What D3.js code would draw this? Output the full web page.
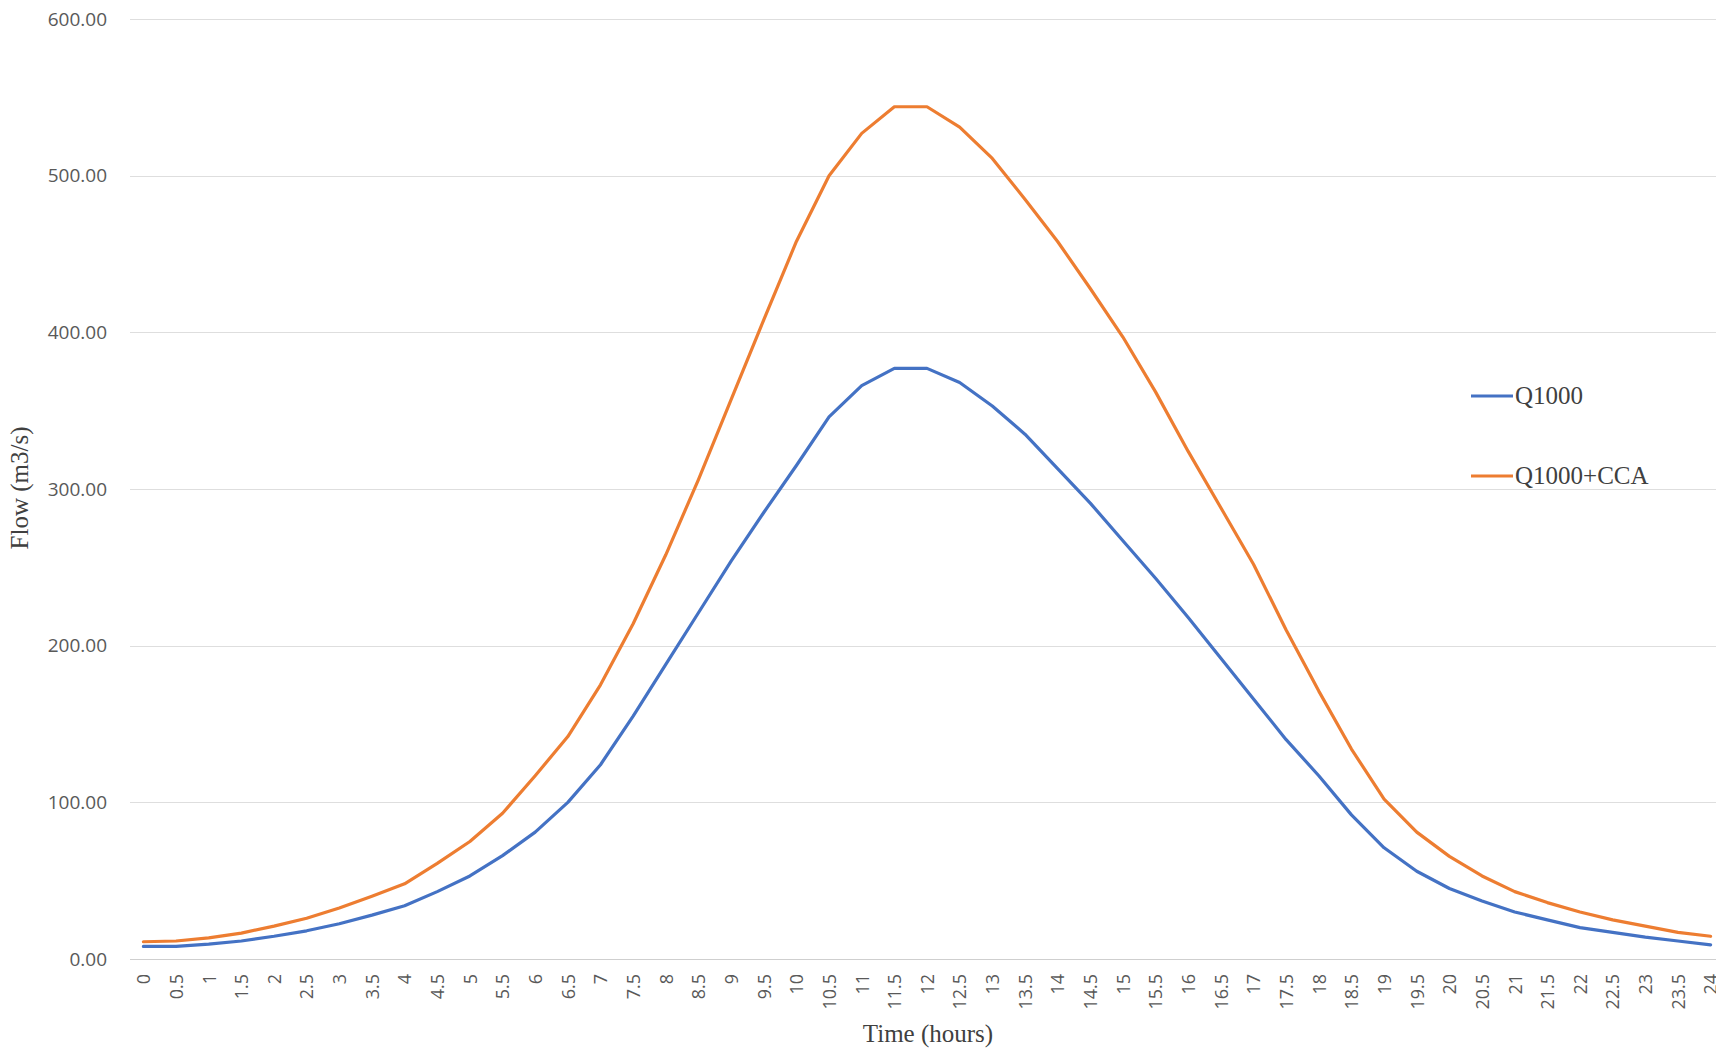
<!DOCTYPE html>
<html>
<head>
<meta charset="utf-8">
<script src="https://cdn.jsdelivr.net/npm/d3@7"></script>
<style>
  body { margin: 0; background: #fff; overflow: hidden; }
  svg { display: block; }
</style>
</head>
<body>
<svg id="chart" width="1716" height="1052"></svg>
<script>
// time steps (hours)
var hours = ["0","0.5","1","1.5","2","2.5","3","3.5","4","4.5","5","5.5","6","6.5","7","7.5","8","8.5","9","9.5",
  "10","10.5","11","11.5","12","12.5","13","13.5","14","14.5","15","15.5","16","16.5","17","17.5","18","18.5","19","19.5",
  "20","20.5","21","21.5","22","22.5","23","23.5","24"];

var q1000 = [8, 8, 9.5, 11.5, 14.5, 18, 22.5, 28, 34, 43, 53, 66, 81, 100, 124, 155, 188, 221, 254, 285,
  315, 346, 366, 377, 377, 368, 353, 335, 313, 291, 267, 243, 218, 192, 166, 140, 117, 92, 71, 56,
  45, 37, 30, 25, 20, 17, 14, 11.5, 9];

var q1000cca = [11, 11.5, 13.5, 16.5, 21, 26, 32.5, 40, 48, 61, 75, 93, 117, 142, 175, 214, 258, 306, 357, 408,
  458, 500, 527, 544, 544, 531, 511, 485, 458, 428, 397, 362, 324, 288, 252, 210, 171, 134, 102, 81,
  65.5, 53, 43, 36, 30, 25, 21, 17, 14.5];

var yTicks = [0, 100, 200, 300, 400, 500, 600];

var seriesNames = ["Q1000", "Q1000+CCA"];
var colors = ["#4472C4", "#ED7D31"];

var svg = d3.select("#chart");

var xScale = d3.scalePoint()
    .domain(hours)
    .range([143.4, 1710.6]);

var yScale = d3.scaleLinear()
    .domain([0, 600])
    .range([959, 19]);

// gridlines
svg.append("g")
    .selectAll("line")
    .data(yTicks)
    .enter()
    .append("line")
    .attr("x1", 130)
    .attr("x2", 1716)
    .attr("y1", function(d) { return Math.round(yScale(d)) + 0.5; })
    .attr("y2", function(d) { return Math.round(yScale(d)) + 0.5; })
    .attr("stroke", function(d) { return d === 0 ? "#cfcfcf" : "#dedede"; })
    .attr("stroke-width", 1);

// y axis labels
var yAxis = d3.axisLeft(yScale)
    .tickValues(yTicks)
    .tickSize(0)
    .tickPadding(0)
    .tickFormat(d3.format(".2f"));

var gy = svg.append("g")
    .attr("transform", "translate(107,0)")
    .call(yAxis);
gy.select(".domain").remove();
gy.selectAll("text")
    .attr("font-family", "'Open Sans', sans-serif")
    .attr("font-size", 19)
    .attr("fill", "#595959");

// x axis labels, rotated
var xAxis = d3.axisBottom(xScale).tickSize(0).tickPadding(0);
var gx = svg.append("g")
    .attr("transform", "translate(0,959)")
    .call(xAxis);
gx.select(".domain").remove();
gx.selectAll("text")
    .attr("font-family", "'Open Sans', sans-serif")
    .attr("font-size", 18)
    .attr("fill", "#595959")
    .attr("text-anchor", "end")
    .attr("y", 0)
    .attr("dy", "0.35em")
    .attr("transform", "translate(0,15) rotate(-90)");

// lines
var line = d3.line()
    .x(function(d, i) { return xScale(hours[i]); })
    .y(function(d) { return yScale(d); });

[q1000, q1000cca].forEach(function(s, k) {
    svg.append("path")
        .datum(s)
        .attr("fill", "none")
        .attr("stroke", colors[k])
        .attr("stroke-width", 3.2)
        .attr("stroke-linejoin", "round")
        .attr("stroke-linecap", "round")
        .attr("d", line);
});

// axis titles
svg.append("text")
    .attr("x", 928)
    .attr("y", 1042)
    .attr("text-anchor", "middle")
    .attr("font-family", "'Liberation Serif', 'Times New Roman', serif")
    .attr("font-size", 25)
    .attr("fill", "#404040")
    .text("Time (hours)");

svg.append("text")
    .attr("transform", "translate(28,488) rotate(-90)")
    .attr("text-anchor", "middle")
    .attr("font-family", "'Liberation Serif', 'Times New Roman', serif")
    .attr("font-size", 25)
    .attr("fill", "#404040")
    .text("Flow (m3/s)");

// legend
var legend = svg.append("g");
var legendY = [396, 476];
seriesNames.forEach(function(name, k) {
    legend.append("line")
        .attr("x1", 1471)
        .attr("x2", 1513)
        .attr("y1", legendY[k])
        .attr("y2", legendY[k])
        .attr("stroke", colors[k])
        .attr("stroke-width", 3.2);
    legend.append("text")
        .attr("x", 1515)
        .attr("y", legendY[k] + 8)
        .attr("font-family", "'Liberation Serif', 'Times New Roman', serif")
        .attr("font-size", 25)
        .attr("fill", "#404040")
        .text(name);
});
</script>
</body>
</html>
